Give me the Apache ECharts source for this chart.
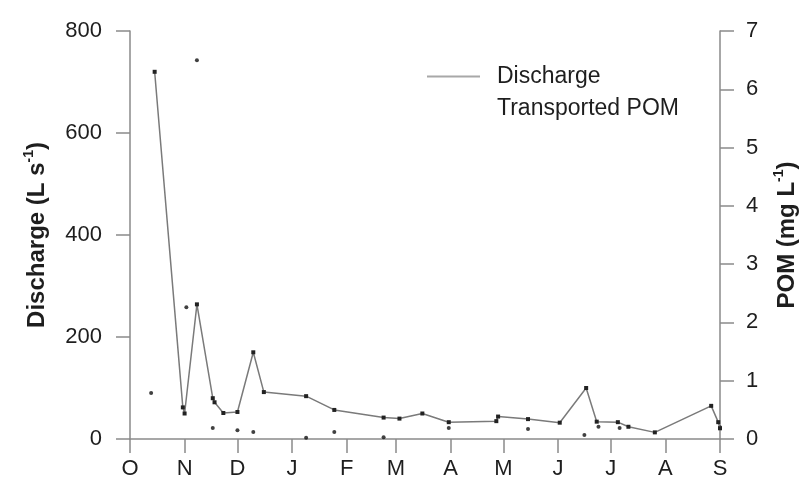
<!DOCTYPE html>
<html>
<head>
<meta charset="utf-8">
<script src="https://cdn.jsdelivr.net/npm/echarts@6/dist/echarts.min.js"></script>
<style>html,body{margin:0;padding:0;background:#fff}#c{width:812px;height:486px}</style>
</head>
<body>
<div id="c"></div>
<script>
// x in days since 1 October
var monthStarts = [0, 31, 61, 92, 123, 151, 182, 212, 243, 273, 304, 335];
var monthLabels = ['O', 'N', 'D', 'J', 'F', 'M', 'A', 'M', 'J', 'J', 'A', 'S'];

var dischargeDays =   [14, 30, 31, 38, 47, 48, 53, 61, 70, 76, 100, 116, 144, 153, 166, 181, 208, 209, 226, 244, 259, 265, 277, 283, 298, 330, 334, 335];
var dischargeValues = [720, 62, 50, 264, 80, 72, 51, 53, 170, 92, 84, 57, 42, 40, 50, 33, 35, 44, 39, 32, 100, 34, 33, 24, 13, 65, 33, 21];

var pomDays =   [12, 32, 38, 47, 61, 70, 100, 116, 144, 181, 226, 258, 266, 278, 335];
var pomValues = [0.79, 2.26, 6.5, 0.19, 0.15, 0.12, 0.02, 0.12, 0.03, 0.19, 0.17, 0.07, 0.21, 0.19, 0.2];

var FONT = 'Liberation Sans, Arial, sans-serif';
var AX = '#8a8a8a';
var TXT = '#1e1e1e';

function pairs(xs, ys) { return xs.map(function (x, i) { return [x, ys[i]]; }); }

var titleRich = {
  a: { fontFamily: FONT, fontSize: 24, fontWeight: 'bold', color: TXT, lineHeight: 30 },
  b: { fontFamily: FONT, fontSize: 14, fontWeight: 'bold', color: TXT, verticalAlign: 'top', lineHeight: 30 }
};

var chart = echarts.init(document.getElementById('c'));
chart.setOption({
  animation: false,
  backgroundColor: '#fff',
  grid: { left: 130, right: 92, top: 31, bottom: 47 },
  legend: {
    orient: 'vertical',
    left: 427, top: 65, padding: 0,
    itemWidth: 53, itemHeight: 2, itemGap: 9,
    textStyle: { fontFamily: FONT, fontSize: 23, color: TXT, padding: [0, 0, 0, 12] },
    data: [
      { name: 'Discharge', icon: 'rect', itemStyle: { color: '#a8a8a8' } },
      { name: 'Transported POM', icon: 'rect', itemStyle: { opacity: 0 } }
    ]
  },
  xAxis: {
    type: 'value', min: 0, max: 335,
    splitLine: { show: false },
    axisLine: { lineStyle: { color: AX, width: 1.5 } },
    axisTick: { show: true, length: 14, customValues: monthStarts, lineStyle: { color: AX, width: 1.5 } },
    axisLabel: {
      customValues: monthStarts, margin: 19,
      fontFamily: FONT, fontSize: 22, color: TXT,
      formatter: function (v) { var i = monthStarts.indexOf(v); return i >= 0 ? monthLabels[i] : ''; }
    }
  },
  yAxis: [
    {
      type: 'value', min: 0, max: 800, interval: 200, position: 'left',
      splitLine: { show: false },
      axisLine: { show: true, lineStyle: { color: AX, width: 1.5 } },
      axisTick: { show: true, length: 14, lineStyle: { color: AX, width: 1.5 } },
      axisLabel: { margin: 28, fontFamily: FONT, fontSize: 22, color: TXT },
      name: '{a|Discharge (L s}{b|-1}{a|)}',
      nameLocation: 'middle', nameGap: 78, nameRotate: 90,
      nameTextStyle: { rich: titleRich }
    },
    {
      type: 'value', min: 0, max: 7, interval: 1, position: 'right',
      splitLine: { show: false },
      axisLine: { show: true, lineStyle: { color: AX, width: 1.5 } },
      axisTick: { show: true, length: 14, lineStyle: { color: AX, width: 1.5 } },
      axisLabel: { margin: 26, fontFamily: FONT, fontSize: 22, color: TXT },
      name: '{a|POM (mg L}{b|-1}{a|)}',
      nameLocation: 'middle', nameGap: 52, nameRotate: 90,
      nameTextStyle: { rich: titleRich }
    }
  ],
  series: [
    {
      name: 'Discharge', type: 'line', yAxisIndex: 0,
      data: pairs(dischargeDays, dischargeValues),
      symbol: 'rect', symbolSize: 4, showSymbol: true,
      lineStyle: { color: '#7a7a7a', width: 1.5 },
      itemStyle: { color: '#222' }
    },
    {
      name: 'Transported POM', type: 'scatter', yAxisIndex: 1,
      data: pairs(pomDays, pomValues),
      symbol: 'circle', symbolSize: 4,
      itemStyle: { color: '#111' }
    }
  ]
});
</script>
</body>
</html>
